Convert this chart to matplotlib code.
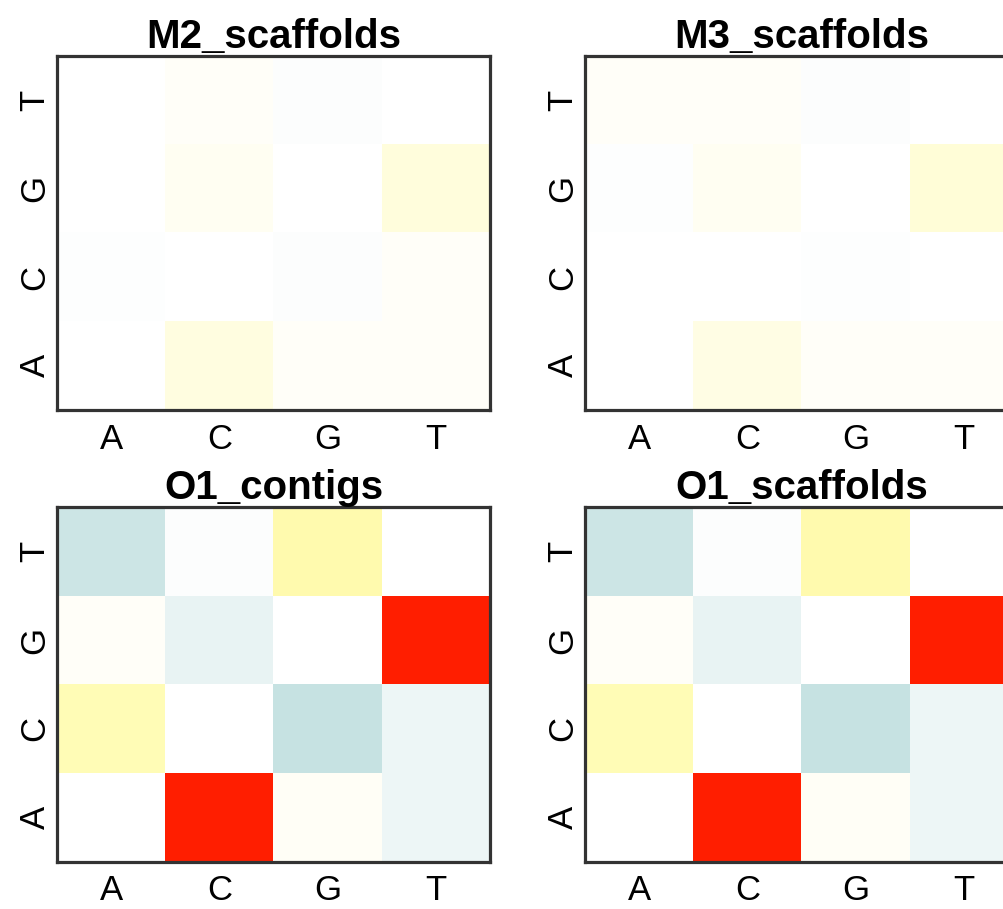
import numpy as np
import matplotlib
matplotlib.use("Agg")
import matplotlib.pyplot as plt
from matplotlib.colors import LinearSegmentedColormap, Normalize

# === Data (rows read top to bottom: T, G, C, A; columns A, C, G, T) ===
bases = ["A", "C", "G", "T"]
row_labels = ["T", "G", "C", "A"]

m2_scaffolds = [
    [0.00, 0.02, -0.05, 0.00],
    [0.00, 0.05, 0.00, 0.13],
    [-0.02, 0.00, -0.04, 0.02],
    [0.00, 0.12, 0.02, 0.02],
]
m3_scaffolds = [
    [0.02, 0.02, -0.05, 0.00],
    [-0.02, 0.05, 0.00, 0.15],
    [0.00, 0.00, -0.03, 0.00],
    [0.00, 0.10, 0.02, 0.02],
]
o1_contigs = [
    [-0.88, -0.05, 0.30, 0.00],
    [0.02, -0.40, 0.00, 1.00],
    [0.27, 0.00, -1.00, -0.30],
    [0.00, 1.00, 0.03, -0.30],
]
o1_scaffolds = [
    [-0.88, -0.05, 0.30, 0.00],
    [0.02, -0.40, 0.00, 1.00],
    [0.27, 0.00, -1.00, -0.30],
    [0.00, 1.00, 0.03, -0.30],
]

panels = [
    ("M2_scaffolds", m2_scaffolds),
    ("M3_scaffolds", m3_scaffolds),
    ("O1_contigs", o1_contigs),
    ("O1_scaffolds", o1_scaffolds),
]

# === Colour scale (odd N so that 0 lands exactly on white) ===
cmap = LinearSegmentedColormap.from_list(
    "bwyr",
    [(0.0, "#c6e2e2"), (0.5, "#ffffff"), (0.65, "#fffcb0"), (1.0, "#ff1e00")],
    N=257,
)
norm = Normalize(vmin=-1, vmax=1)

plt.rcParams["font.family"] = ["Liberation Sans", "DejaVu Sans"]

fig = plt.figure(figsize=(10.04, 9.09), dpi=100)

# axes rectangles in pixels (right column runs past the edge)
W, H = 1004, 909
boxes = [
    (57, 56, 433, 354),
    (585, 56, 433, 354),
    (57, 507, 433, 355),
    (585, 507, 433, 355),
]

for (title, mat), (x, y, w, h) in zip(panels, boxes):
    ax = fig.add_axes([x / W, 1 - (y + h) / H, w / W, h / H])
    ax.imshow(np.array(mat), cmap=cmap, norm=norm, aspect="auto",
              interpolation="nearest")
    ax.set_xticks(range(4))
    ax.set_xticklabels(bases)
    ax.set_yticks(range(4))
    ax.set_yticklabels(row_labels, rotation=90, va="center")
    ax.tick_params(axis="x", length=0, pad=9, labelsize=25)
    ax.tick_params(axis="y", length=0, pad=4, labelsize=25)
    for s in ax.spines.values():
        s.set_linewidth(2.3)
        s.set_color("#333333")
    ax.set_title(title, fontsize=29, fontweight="bold", pad=5)

fig.savefig("out.png", dpi=100)
